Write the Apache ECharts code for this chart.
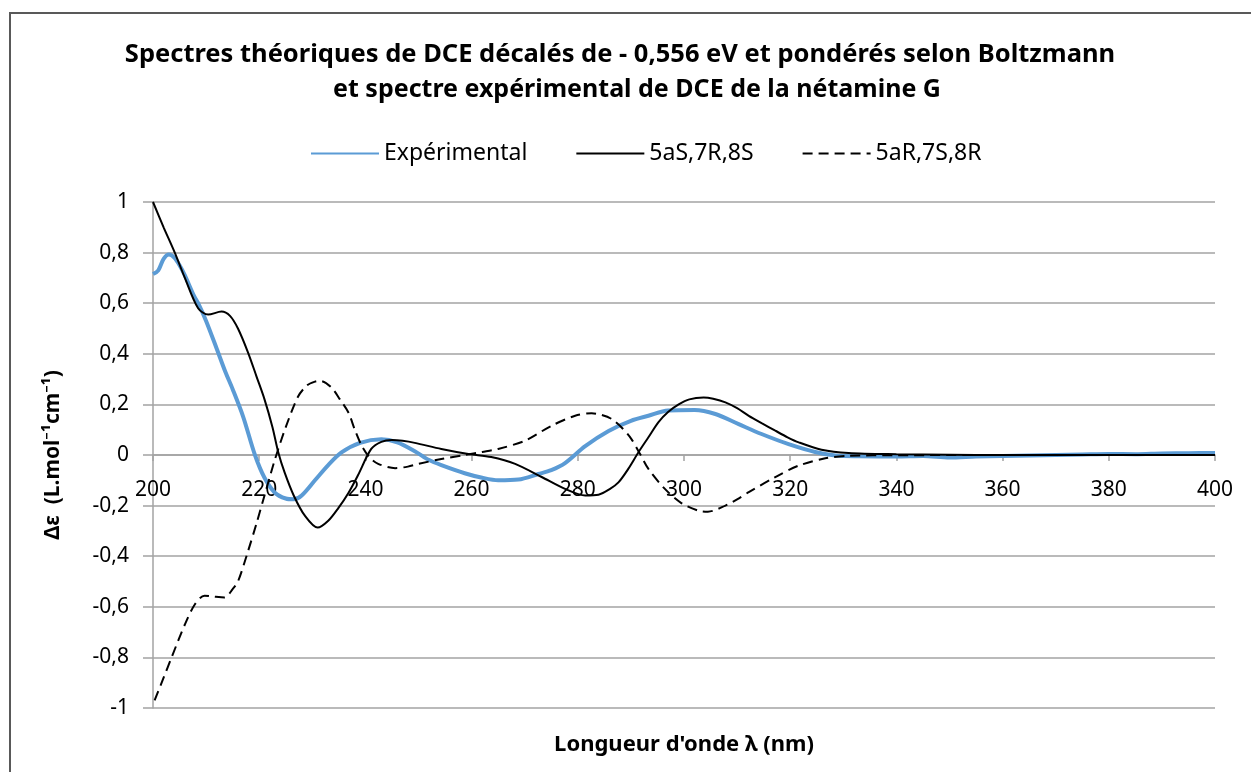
<!DOCTYPE html>
<html>
<head>
<meta charset="utf-8">
<script src="https://cdn.jsdelivr.net/npm/echarts@6/dist/echarts.min.js"></script>
<style>
  html, body { margin: 0; padding: 0; background: #fff; }
  #chart { width: 1251px; height: 772px; }
</style>
</head>
<body>
<div id="chart"></div>
<script>
// CD spectra: wavelength (nm) and Δε (L.mol-1cm-1)
const expNm = [200, 201, 202, 203, 204, 205, 206, 207.7, 208.5, 210, 212, 213.6, 215, 217, 219.2, 221, 223, 225, 226.5, 228, 230.5, 233, 235.5, 239, 243, 246, 249.3, 252, 254.3, 258.7, 262, 265, 268.8, 272.6, 275, 277.6, 281.4, 285.8, 290, 293.3, 297, 302, 305.9, 310.3, 314.6, 319.7, 324.7, 328.5, 333, 340, 345, 350, 355, 360, 365, 370, 375, 380, 385, 390, 395, 400];
const expDe = [0.715, 0.73, 0.775, 0.792, 0.78, 0.75, 0.71, 0.63, 0.60, 0.53, 0.42, 0.33, 0.26, 0.15, 0.0, -0.09, -0.15, -0.172, -0.175, -0.16, -0.10, -0.04, 0.01, 0.048, 0.062, 0.05, 0.015, -0.02, -0.04, -0.072, -0.09, -0.10, -0.097, -0.075, -0.06, -0.032, 0.035, 0.095, 0.135, 0.155, 0.176, 0.178, 0.162, 0.122, 0.083, 0.043, 0.012, -0.002, -0.005, -0.006, -0.004, -0.01, -0.006, -0.004, -0.002, 0, 0.002, 0.004, 0.003, 0.006, 0.007, 0.008];

const sNm = [200, 202, 204.1, 206, 208.5, 210.4, 212.9, 214.5, 216, 217.9, 219.5, 221, 222.5, 223.6, 224.8, 226.5, 228.6, 231, 233, 234.9, 236.8, 238.6, 241.1, 243, 245, 247, 249.3, 254.3, 259.4, 263.7, 268.2, 273.2, 277.6, 281.4, 283.9, 286, 287.7, 289.5, 291.4, 293.3, 295.2, 297, 299, 301, 303.7, 305.5, 307.8, 310, 312.2, 314.7, 317.2, 319.5, 321.6, 325.9, 331, 340, 350, 360, 380, 400];
const sDe = [1.0, 0.9, 0.8, 0.7, 0.58, 0.555, 0.567, 0.55, 0.50, 0.405, 0.31, 0.22, 0.11, 0.01, -0.07, -0.16, -0.24, -0.287, -0.26, -0.21, -0.15, -0.08, 0.024, 0.052, 0.059, 0.056, 0.048, 0.024, 0.004, -0.008, -0.035, -0.087, -0.134, -0.16, -0.157, -0.135, -0.107, -0.055, 0.01, 0.07, 0.13, 0.17, 0.2, 0.22, 0.227, 0.222, 0.208, 0.185, 0.155, 0.125, 0.096, 0.07, 0.05, 0.021, 0.008, 0.003, 0.001, 0, 0, 0];

const rNm = [200.3, 202, 203.5, 206, 207.9, 209.7, 211.5, 213.5, 215, 216, 217.9, 219.5, 221, 223, 225, 227.3, 229, 230.5, 231.5, 233.6, 235.2, 236.8, 238, 239.3, 240.8, 242.4, 245.6, 248, 250, 254.3, 258.7, 262, 265, 270, 275, 279.5, 282.6, 284.5, 286.4, 288.3, 290.1, 291.7, 293.3, 296.4, 299.5, 302.7, 304.5, 307.8, 310, 312.2, 317.2, 321.6, 326.6, 331, 340, 360, 400];
const rDe = [-0.97, -0.88, -0.80, -0.67, -0.59, -0.556, -0.56, -0.563, -0.53, -0.50, -0.38, -0.27, -0.16, -0.015, 0.11, 0.23, 0.275, 0.29, 0.293, 0.267, 0.22, 0.168, 0.1, 0.037, -0.01, -0.035, -0.052, -0.046, -0.035, -0.016, 0, 0.012, 0.024, 0.056, 0.115, 0.155, 0.165, 0.158, 0.142, 0.108, 0.063, 0.005, -0.055, -0.134, -0.19, -0.22, -0.224, -0.2, -0.175, -0.147, -0.087, -0.042, -0.013, -0.003, -0.001, 0, 0];

const seriesNames = ['Expérimental', '5aS,7R,8S', '5aR,7S,8R'];
const titleLines = [
  'Spectres théoriques de DCE décalés de - 0,556 eV et pondérés selon Boltzmann',
  'et spectre expérimental de DCE de la nétamine G'
];
const xName = "Longueur d'onde λ (nm)";
const yName = 'Δε  (L.mol⁻¹cm⁻¹)';

const zip = (xs, ys) => xs.map((x, i) => [x, ys[i]]);
const FONT = 'Noto Sans';
const GRID = '#a3a3a3';

// plot box
const G_LEFT = 153, G_RIGHT = 36, G_TOP = 202, G_BOTTOM = 64;
const Y_MIN = -1, Y_MAX = 1;
const plotH = 772 - G_TOP - G_BOTTOM;
// lift the x axis from the bottom edge up to the Δε = 0 line
const zeroOffset = -plotH * (0 - Y_MIN) / (Y_MAX - Y_MIN);

const chart = echarts.init(document.getElementById('chart'), null, { renderer: 'canvas' });
chart.setOption({
  animation: false,
  backgroundColor: '#ffffff',
  legend: {
    top: 137,
    left: 305,
    itemWidth: 68,
    itemHeight: 14,
    itemGap: 48,
    itemStyle: { opacity: 0 },
    textStyle: { fontFamily: FONT, fontSize: 23, color: '#000' },
    data: seriesNames
  },
  grid: { left: G_LEFT, right: G_RIGHT, top: G_TOP, bottom: G_BOTTOM, containLabel: false },
  xAxis: {
    type: 'value',
    min: 200, max: 400, interval: 20,
    offset: zeroOffset,
    axisLine: { show: true, onZero: false, lineStyle: { color: GRID, width: 1.5 } },
    axisTick: { show: true, length: 6, lineStyle: { color: GRID, width: 1.5 } },
    axisLabel: { margin: 25, fontFamily: FONT, fontSize: 21, color: '#000' },
    splitLine: { show: false }
  },
  yAxis: {
    type: 'value',
    min: Y_MIN, max: Y_MAX, interval: 0.2,
    name: yName,
    nameLocation: 'middle',
    nameGap: 89,
    nameTextStyle: { fontFamily: FONT, fontSize: 21, fontWeight: 'bold', color: '#000' },
    axisLine: { show: true, lineStyle: { color: GRID, width: 1.5 } },
    axisTick: { show: true, length: 10, lineStyle: { color: GRID, width: 1.5 } },
    axisLabel: {
      margin: 24, fontFamily: FONT, fontSize: 21, color: '#000',
      formatter: v => String(Number(v.toFixed(1))).replace('.', ',')
    },
    splitLine: { show: true, lineStyle: { color: GRID, width: 1.5 } }
  },
  graphic: [
    {
      type: 'rect', silent: true, z: -1,
      shape: { x: 10, y: 13, width: 1300, height: 800 },
      style: { fill: null, stroke: '#595959', lineWidth: 2 }
    },
    {
      type: 'text', x: 620, y: 55,
      style: { text: titleLines[0], fontFamily: FONT, fontSize: 25.5, fontWeight: 'bold', fill: '#000', align: 'center', verticalAlign: 'middle' }
    },
    {
      type: 'text', x: 637, y: 90,
      style: { text: titleLines[1], fontFamily: FONT, fontSize: 25, fontWeight: 'bold', fill: '#000', align: 'center', verticalAlign: 'middle' }
    },
    {
      type: 'text', x: 684, y: 745,
      style: { text: xName, fontFamily: FONT, fontSize: 22, fontWeight: 'bold', fill: '#000', align: 'center', verticalAlign: 'middle' }
    }
  ],
  series: [
    {
      name: seriesNames[0], type: 'line', data: zip(expNm, expDe),
      smooth: 0.3, symbol: 'none', z: 2,
      lineStyle: { color: '#5b9bd5', width: 4 }, itemStyle: { color: '#5b9bd5' }
    },
    {
      name: seriesNames[1], type: 'line', data: zip(sNm, sDe),
      smooth: 0.3, symbol: 'none', z: 3,
      lineStyle: { color: '#000', width: 2 }, itemStyle: { color: '#000' }
    },
    {
      name: seriesNames[2], type: 'line', data: zip(rNm, rDe),
      smooth: 0.3, symbol: 'none', z: 3,
      lineStyle: { color: '#000', width: 2, type: [10, 6] }, itemStyle: { color: '#000' }
    }
  ]
});
</script>
</body>
</html>
